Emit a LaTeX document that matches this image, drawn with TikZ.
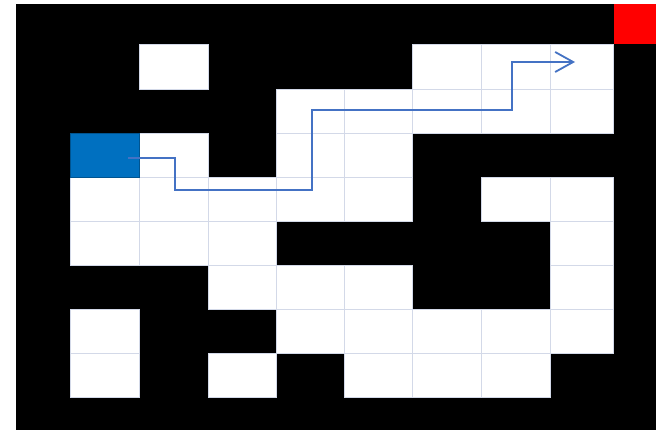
\documentclass[tikz,border=0pt]{standalone}
\usepackage{tikz}
\usetikzlibrary{positioning,arrows.meta,calc}
\definecolor{wall}     {HTML}{000000}
\definecolor{gridline} {HTML}{D3D9E8}
\definecolor{startblue}{HTML}{0070C0}
\definecolor{goalred}  {HTML}{FF0000}
\definecolor{route}    {HTML}{4472C4}
\tikzset{
  % --- cells
  maze/.style      = {fill=wall},
  floor/.style     = {fill=white, draw=gridline, line width=1pt},
  startcell/.style = {fill=startblue, draw=startblue!75!black, line width=0.6pt},
  goalcell/.style  = {fill=goalred},
  % --- edges
  walk/.style      = {-{Straight Barb[length=18pt,width=20pt]}, line width=1.8pt,
                      draw=route},
}
\def\colx{{16,70,139,208,276.5,344,412,481,550,613.5}}

\begin{document}
\begin{tikzpicture}[x=1pt,y=-1pt]
  \useasboundingbox (0,0) rectangle (656,430);
  \fill[maze] (16,4) rectangle (656,430);
  % open cells, column/row
  \foreach \cx/\ry in {2/1,6/1,7/1,8/1,
                       4/2,5/2,6/2,7/2,8/2,
                       2/3,4/3,5/3,
                       1/4,2/4,3/4,4/4,5/4,7/4,8/4,
                       1/5,2/5,3/5,8/5,
                       3/6,4/6,5/6,8/6,
                       1/7,4/7,5/7,6/7,7/7,8/7,
                       1/8,3/8,5/8,6/8,7/8}{
    \pgfmathsetmacro\xl{\colx[\cx]}
    \pgfmathsetmacro\xr{\colx[\cx+1]}
    \pgfmathsetmacro\yt{45+(\ry-1)*44.06}
    \draw[floor] (\xl,\yt) rectangle (\xr,\yt+44.06);
  }
  \draw[startcell] (70,133.1) rectangle (139,177.2);
  \fill[goalcell] (613.5,4) rectangle (656,44);
  % route
  \coordinate (start) at (128,158);
  \coordinate (b1) at (175,190);
  \coordinate (b2) at (312,110);
  \coordinate (b3) at (512,62);
  \coordinate (goal) at (575,62);
  \draw[walk] (start) -| (b1) -| (b2) -| (b3) -- (goal);
\end{tikzpicture}
\end{document}
